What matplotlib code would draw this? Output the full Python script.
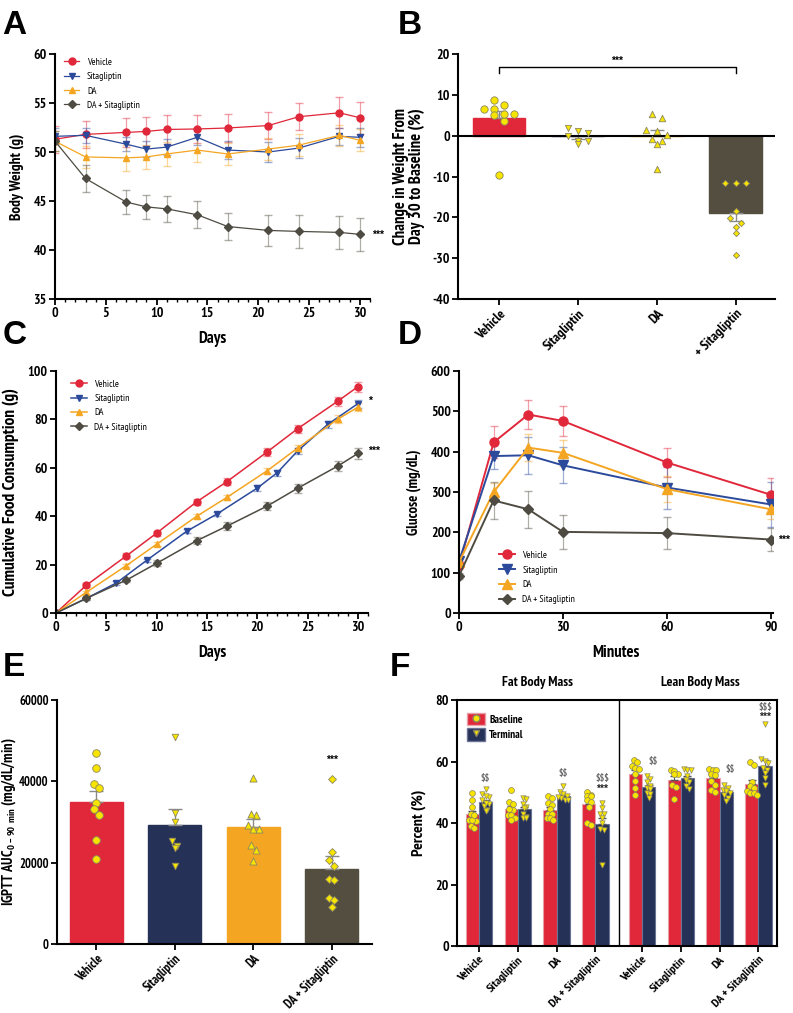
import numpy as np
import matplotlib
matplotlib.use('Agg')
import matplotlib.pyplot as plt
from matplotlib import font_manager
from matplotlib.patches import Patch
from matplotlib.lines import Line2D
from matplotlib.legend_handler import HandlerTuple
from matplotlib.ticker import MultipleLocator

# the original uses a narrow bold face; take the first narrow family with a bold file
bold_ok = {}
for f in font_manager.fontManager.ttflist:
    w = f.weight
    heavy = (w in ('bold', 'heavy', 'black', 'semibold', 'demibold')) or (isinstance(w, int) and w >= 600)
    bold_ok[f.name] = bold_ok.get(f.name, False) or heavy
FONT = 'Liberation Sans'
for cand in ['Liberation Sans Narrow', 'Arial Narrow', 'PT Sans Narrow', 'Pragati Narrow',
             'Archivo Narrow', 'Roboto Condensed']:
    if bold_ok.get(cand):
        FONT = cand
        break
NARROW = FONT != 'Liberation Sans'

plt.rcParams['font.family'] = [FONT, 'Liberation Sans', 'DejaVu Sans']
plt.rcParams['font.weight'] = 'bold'
plt.rcParams['axes.labelweight'] = 'bold'
plt.rcParams['axes.unicode_minus'] = False
plt.rcParams['mathtext.fontset'] = 'custom'
plt.rcParams['mathtext.rm'] = FONT
plt.rcParams['mathtext.bf'] = FONT + ':bold'

groups = ['Vehicle', 'Sitagliptin', 'DA', 'DA + Sitagliptin']
# in the original figure panel B's last label is hidden under panel D except its tail
groups_b = ['Vehicle', 'Sitagliptin', 'DA', '+ Sitagliptin']

# --- A: body weight (g) ---
bw_days = [0, 3, 7, 9, 11, 14, 17, 21, 24, 28, 30]
bw_veh = [51.3, 51.8, 52.0, 52.1, 52.3, 52.35, 52.45, 52.7, 53.6, 54.0, 53.5]
bw_veh_sem = [1.4, 1.4, 1.45, 1.45, 1.45, 1.45, 1.4, 1.4, 1.4, 1.6, 1.65]
bw_sita = [51.6, 51.7, 50.8, 50.3, 50.5, 51.5, 50.2, 50.0, 50.4, 51.6, 51.5]
bw_sita_sem = [0.8, 0.8, 0.7, 0.8, 0.8, 0.8, 0.9, 1.0, 1.0, 0.9, 1.0]
bw_da = [51.1, 49.5, 49.4, 49.5, 49.8, 50.2, 49.8, 50.3, 50.7, 51.7, 51.2]
bw_da_sem = [1.0, 1.1, 1.3, 1.2, 1.2, 1.2, 1.1, 1.1, 1.1, 1.1, 1.1]
bw_dasita = [51.1, 47.3, 44.9, 44.4, 44.2, 43.6, 42.4, 42.0, 41.9, 41.8, 41.6]
bw_dasita_sem = [1.0, 1.4, 1.2, 1.2, 1.3, 1.4, 1.4, 1.6, 1.7, 1.7, 1.7]

# --- B: change in weight day 30 vs baseline (%) ---
chg_veh = [6.5, 5.2, 7.5, 5.1, 8.7, 3.7, 5.2, 6.5, -9.6]
chg_sita = [2.0, 0.6, 1.2, -0.2, -1.3, -2.0, -1.4]
chg_da = [4.3, 5.3, 1.4, 1.2, 0.2, -0.7, -1.3, -2.1, -8.2]
chg_dasita = [-11.5, -11.7, -11.5, -18.4, -20.2, -22.4, -21.4, -23.9, -29.2]

# --- C: cumulative food consumption (g) ---
fc_days = [0, 3, 7, 10, 14, 17, 21, 24, 28, 30]
fc_sita_days = [0, 3, 6, 9, 13, 16, 20, 22, 24, 27, 30]
fc_veh = [0, 11.4, 23.6, 33.0, 46.0, 54.3, 66.6, 76.1, 87.5, 93.5]
fc_veh_sem = [0, 0.8, 1.0, 1.0, 1.2, 1.3, 1.6, 1.7, 1.9, 2.1]
fc_sita = [0, 6.0, 12.4, 21.7, 33.8, 40.9, 51.6, 58.0, 66.9, 77.9, 86.5]
fc_sita_sem = [0, 0.5, 0.7, 0.8, 0.9, 1.0, 1.1, 1.2, 1.4, 1.5, 1.6]
fc_da = [0, 8.5, 19.6, 28.4, 40.0, 47.8, 58.8, 68.1, 80.1, 85.0]
fc_da_sem = [0, 0.6, 0.8, 0.9, 1.0, 1.1, 1.3, 1.4, 1.5, 1.6]
fc_dasita = [0, 6.0, 13.6, 20.5, 29.9, 35.9, 44.2, 51.5, 60.7, 65.9]
fc_dasita_sem = [0, 0.8, 1.0, 1.2, 1.4, 1.5, 1.7, 1.9, 2.0, 2.2]

# --- D: glucose tolerance (mg/dL) ---
gtt_min = [0, 10, 20, 30, 60, 90]
gtt_veh = [118, 423, 492, 476, 373, 293]
gtt_veh_sem = [10, 40, 35, 38, 37, 42]
gtt_sita = [128, 389, 391, 366, 311, 269]
gtt_sita_sem = [10, 32, 46, 45, 52, 56]
gtt_da = [126, 300, 410, 397, 307, 257]
gtt_da_sem = [10, 22, 34, 32, 32, 24]
gtt_dasita = [92, 279, 257, 201, 198, 182]
gtt_dasita_sem = [8, 45, 46, 42, 40, 28]

# --- E: IGPTT AUC (mg/dL/min) ---
auc_veh = [47000, 43300, 39300, 38400, 34700, 33100, 31600, 25500, 21000]
auc_sita = [51000, 32200, 29900, 25400, 24100, 23600, 19300]
auc_da = [40800, 31700, 31900, 29300, 28200, 28400, 23100, 24300, 20500]
auc_dasita = [40600, 22600, 20700, 19200, 15900, 15700, 11400, 10700, 9200]

# --- F: body composition (%) ---
comp_labels = groups + groups
comp_base_mean = [42.9, 44.6, 44.4, 46.2, 56.0, 54.0, 54.5, 52.7]
comp_term_mean = [46.8, 44.5, 48.7, 39.8, 51.6, 54.5, 50.2, 58.5]
fat_veh_base = [49.8, 47.6, 45.2, 43.0, 41.0, 40.6, 40.9, 39.2, 38.3, 42.5]
fat_veh_term = [51.2, 49.5, 48.5, 48.8, 47.5, 46.2, 45.5, 44.2, 44.0, 46.5]
fat_sita_base = [50.9, 46.9, 46.3, 44.3, 42.7, 42.5, 41.6, 41.0, 44.5]
fat_sita_term = [48.3, 47.8, 46.2, 45.2, 44.8, 43.1, 42.0, 41.8, 41.5]
fat_da_base = [48.8, 48.2, 46.5, 45.8, 44.5, 43.0, 42.8, 41.6, 41.5, 41.0]
fat_da_term = [51.9, 50.0, 49.5, 48.8, 48.0, 47.6, 47.5, 48.5]
fat_dasita_base = [50.2, 49.0, 48.9, 48.8, 47.5, 46.8, 45.2, 39.9, 39.4]
fat_dasita_term = [46.5, 44.8, 43.0, 42.9, 41.5, 40.0, 38.0, 37.6, 26.2]
lean_veh_base = [60.6, 59.7, 58.6, 57.8, 57.6, 55.9, 53.6, 51.4, 49.0]
lean_veh_term = [55.3, 54.3, 53.3, 52.0, 51.5, 51.2, 49.8, 49.5, 48.0]
lean_sita_base = [57.2, 57.0, 56.0, 55.8, 52.5, 51.8, 47.8]
lean_sita_term = [57.5, 57.3, 57.2, 55.4, 54.0, 53.5, 52.0, 51.2]
lean_da_base = [57.6, 57.2, 57.1, 55.9, 55.6, 53.7, 52.5, 50.7, 50.2]
lean_da_term = [52.3, 51.5, 50.8, 49.9, 49.2, 48.3, 47.2, 50.5]
lean_dasita_base = [59.7, 59.0, 53.5, 52.0, 51.3, 50.3, 49.9, 49.8, 49.0]
lean_dasita_term = [72.3, 60.7, 60.2, 59.5, 58.0, 57.2, 56.2, 54.5, 52.5]

RED = '#E0283A'
BLUE = '#2C4A9C'
NAVY = '#263158'
ORANGE = '#F4A623'
DARK = '#534E40'
YEL = '#F7E400'
YEL_EDGE = '#8C8760'
colors_line = [RED, BLUE, ORANGE, '#4E4C42']
colors_bar = [RED, NAVY, ORANGE, DARK]
markers = ['o', 'v', '^', 'D']
k = 1.0 if NARROW else 0.85
TICK_FS, CAT_FS, LEG_FS = 10 * k, 8.7 * k, 7 * k
STAR = dict(family='Liberation Sans', fontsize=7.5)


def sem(v):
    v = np.asarray(v, float)
    return v.std(ddof=1) / np.sqrt(len(v))


def swarm_x(vals, center, dx, dy):
    # rows of close values get spread side by side, like a column scatter
    vals = np.asarray(vals, float)
    order = np.argsort(-vals)
    xs = np.full(len(vals), float(center))
    row = []

    def flush(r):
        n = len(r)
        for j, idx in enumerate(r):
            xs[idx] = center + (j - (n - 1) / 2) * dx

    for idx in order:
        if row and vals[row[0]] - vals[idx] > dy:
            flush(row)
            row = []
        row.append(idx)
    flush(row)
    return xs


def style(ax, fs=None):
    for s in ['top', 'right']:
        ax.spines[s].set_visible(False)
    for s in ['left', 'bottom']:
        ax.spines[s].set_linewidth(1.5)
    ax.tick_params(width=1.3, length=4, labelsize=fs or TICK_FS, pad=2)
    ax.tick_params(which='minor', width=1.0, length=2.5)


def line_panel(ax, xs_list, ys_list, es_list, ms, lw):
    for i in range(4):
        ax.errorbar(xs_list[i], ys_list[i], yerr=es_list[i], fmt='none',
                    ecolor=colors_line[i], alpha=0.45, capsize=3, elinewidth=0.9)
    for i in range(4):
        m = ms * 0.8 if markers[i] == 'D' else ms
        ax.plot(xs_list[i], ys_list[i], color=colors_line[i], marker=markers[i],
                ms=m, lw=lw, label=groups[i])


fig = plt.figure(figsize=(7.93, 10.13), dpi=100)

# ---------------- A ----------------
axA = fig.add_axes([0.0694, 0.7048, 0.397, 0.2419])
line_panel(axA, [bw_days] * 4, [bw_veh, bw_sita, bw_da, bw_dasita],
           [bw_veh_sem, bw_sita_sem, bw_da_sem, bw_dasita_sem], 5, 0.9)
axA.set_xlim(0, 31)
axA.set_ylim(35, 60)
axA.xaxis.set_major_locator(MultipleLocator(5))
axA.xaxis.set_minor_locator(MultipleLocator(1))
axA.yaxis.set_major_locator(MultipleLocator(5))
style(axA)
axA.set_xlabel('Days', fontsize=12 * k, labelpad=8)
axA.set_ylabel('Body Weight (g)', fontsize=11 * k, labelpad=7)
axA.text(31.2, bw_dasita[-1], '***', va='center', clip_on=False, **STAR)
axA.legend(loc='upper left', bbox_to_anchor=(0.0, 1.02), frameon=False,
           prop={'weight': 'normal', 'size': LEG_FS}, handlelength=1.6, labelspacing=0.55)

# ---------------- B ----------------
axB = fig.add_axes([0.5776, 0.7048, 0.3997, 0.2419])
b_sets = [chg_veh, chg_sita, chg_da, chg_dasita]
b_sizes = [28, 20, 22, 10]
for i, pts in enumerate(b_sets):
    m, s = np.mean(pts), sem(pts)
    axB.bar(i, m, width=0.67, color=colors_bar[i], edgecolor=colors_bar[i], zorder=2)
    sgn = 1 if m >= 0 else -1
    axB.errorbar(i, m, yerr=[[s if sgn < 0 else 0], [s if sgn > 0 else 0]],
                 fmt='none', ecolor='#8a8a8a', capsize=5, elinewidth=1, zorder=3)
    xs = swarm_x(pts, i, 0.13, 1.4)
    axB.scatter(xs, pts, s=b_sizes[i], marker=markers[i], c=YEL,
                edgecolors=YEL_EDGE, linewidths=0.6, zorder=4)
axB.axhline(0, color='k', lw=1.5, zorder=3)
axB.plot([0, 0, 3, 3], [15.3, 16.7, 16.7, 15.3], color='k', lw=1)
axB.text(1.5, 17.0, '***', ha='center', va='bottom', **STAR)
axB.set_xlim(-0.52, 3.5)
axB.set_ylim(-40, 20)
axB.yaxis.set_major_locator(MultipleLocator(10))
axB.set_xticks(range(4))
axB.set_xticklabels(groups_b, rotation=45, ha='right', rotation_mode='anchor', fontsize=CAT_FS)
style(axB)
axB.set_ylabel('Change in Weight From\nDay 30 to Baseline (%)', fontsize=12 * k,
               linespacing=1.0, labelpad=5)

# ---------------- C ----------------
axC = fig.add_axes([0.0706, 0.3949, 0.3934, 0.2389])
line_panel(axC, [fc_days, fc_sita_days, fc_days, fc_days],
           [fc_veh, fc_sita, fc_da, fc_dasita],
           [fc_veh_sem, fc_sita_sem, fc_da_sem, fc_dasita_sem], 5, 1.1)
axC.set_xlim(0, 31)
axC.set_ylim(0, 100)
axC.xaxis.set_major_locator(MultipleLocator(5))
axC.xaxis.set_minor_locator(MultipleLocator(1))
axC.yaxis.set_major_locator(MultipleLocator(20))
style(axC)
axC.set_xlabel('Days', fontsize=12 * k, labelpad=8)
axC.set_ylabel('Cumulative Food Consumption (g)', fontsize=12.5 * k, labelpad=6)
axC.text(31.0, 87.5, '*', va='center', clip_on=False, **STAR)
axC.text(31.0, 67.0, '***', va='center', clip_on=False, **STAR)
axC.legend(loc='upper left', bbox_to_anchor=(0.02, 1.0), frameon=False,
           prop={'weight': 'normal', 'size': LEG_FS}, handlelength=1.6, labelspacing=0.55)

# ---------------- D ----------------
axD = fig.add_axes([0.5788, 0.3949, 0.396, 0.2389])
line_panel(axD, [gtt_min] * 4, [gtt_veh, gtt_sita, gtt_da, gtt_dasita],
           [gtt_veh_sem, gtt_sita_sem, gtt_da_sem, gtt_dasita_sem], 6.5, 1.4)
axD.set_xlim(0, 90.6)
axD.set_ylim(0, 600)
axD.set_xticks([0, 30, 60, 90])
axD.yaxis.set_major_locator(MultipleLocator(100))
style(axD)
axD.set_xlabel('Minutes', fontsize=12 * k, labelpad=8)
axD.set_ylabel('Glucose (mg/dL)', fontsize=10.5 * k, labelpad=7)
axD.text(92, gtt_dasita[-1], '***', va='center', clip_on=False, **STAR)
axD.legend(loc='lower left', bbox_to_anchor=(0.1, 0.0), frameon=False,
           prop={'weight': 'normal', 'size': LEG_FS}, handlelength=1.6, labelspacing=0.6)

# ---------------- E ----------------
axE = fig.add_axes([0.0719, 0.0681, 0.397, 0.2409])
e_sets = [auc_veh, auc_sita, auc_da, auc_dasita]
e_sizes = [30, 22, 26, 16]
for i, pts in enumerate(e_sets):
    m, s = np.mean(pts), sem(pts)
    axE.bar(i, m, width=0.67, color=colors_bar[i], edgecolor=colors_bar[i], zorder=2)
    axE.errorbar(i, m, yerr=[[0], [s]], fmt='none', ecolor='#8a8a8a',
                 capsize=5, elinewidth=1, zorder=3)
    xs = swarm_x(pts, i, 0.068, 1500)
    axE.scatter(xs, pts, s=e_sizes[i], marker=markers[i], c=YEL,
                edgecolors=YEL_EDGE, linewidths=0.6, zorder=4)
axE.text(3, 44000, '***', ha='center', va='bottom', **STAR)
axE.set_xlim(-0.5, 3.51)
axE.set_ylim(0, 60000)
axE.yaxis.set_major_locator(MultipleLocator(20000))
axE.set_xticks(range(4))
axE.set_xticklabels(groups, rotation=45, ha='right', rotation_mode='anchor', fontsize=CAT_FS)
style(axE, fs=9 * k)
axE.set_ylabel(r'IGPTT AUC$_{\mathbf{0-90\ min}}$ (mg/dL/min)', fontsize=10.5 * k)
axE.yaxis.set_label_coords(-0.125, 0.5)

# ---------------- F ----------------
axF = fig.add_axes([0.5763, 0.0661, 0.4035, 0.2428])
f_pos = [0, 1, 2, 3, 4.2, 5.2, 6.2, 7.2]
f_base = [fat_veh_base, fat_sita_base, fat_da_base, fat_dasita_base,
          lean_veh_base, lean_sita_base, lean_da_base, lean_dasita_base]
f_term = [fat_veh_term, fat_sita_term, fat_da_term, fat_dasita_term,
          lean_veh_term, lean_sita_term, lean_da_term, lean_dasita_term]
bw = 0.34
for j, p in enumerate(f_pos):
    for pts, mean, off, col, mk in [(f_base[j], comp_base_mean[j], -bw / 2, RED, 'o'),
                                    (f_term[j], comp_term_mean[j], bw / 2, NAVY, 'v')]:
        axF.bar(p + off, mean, width=bw, color=col, edgecolor='#e8a0a8' if col == RED else '#6b7394',
                lw=0.8, zorder=2)
        axF.errorbar(p + off, mean, yerr=[[0], [sem(pts)]], fmt='none', ecolor='#555555',
                     capsize=3, elinewidth=0.8, zorder=3)
        xs = swarm_x(pts, p + off, 0.09, 1.3)
        axF.scatter(xs, pts, s=18 if mk == 'o' else 15, marker=mk, c=YEL,
                    edgecolors=YEL_EDGE, linewidths=0.5, zorder=4)
axF.axvline(3.6, color='k', lw=1)
ann = [(0, 53.0, r'\$\$'), (2, 54.5, r'\$\$'), (3, 53.0, r'\$\$\$'), (3, 49.5, '***'),
       (4.2, 58.5, r'\$\$'), (6.2, 56.0, r'\$\$'), (7.2, 76.0, r'\$\$\$'), (7.2, 72.8, '***')]
for x, y, t in ann:
    dx = 0.28 if x in (4.2, 6.2) else 0.17
    if '$' in t:
        axF.text(x + dx, y, t, ha='center', va='bottom', fontsize=7 * k, color='#666666')
    else:
        axF.text(x + dx, y, t, ha='center', va='bottom', color='#222222', **STAR)
axF.text(1.5, 83.5, 'Fat Body Mass', ha='center', va='bottom', fontsize=10 * k)
axF.text(5.7, 83.5, 'Lean Body Mass', ha='center', va='bottom', fontsize=10 * k)
axF.set_xlim(-0.567, 7.68)
axF.set_ylim(0, 80)
axF.yaxis.set_major_locator(MultipleLocator(20))
axF.set_xticks(f_pos)
axF.set_xticklabels(comp_labels, rotation=45, ha='right', rotation_mode='anchor', fontsize=CAT_FS)
for s in axF.spines.values():
    s.set_linewidth(1.5)
axF.tick_params(width=1.3, length=4, labelsize=TICK_FS, pad=2)
axF.tick_params(axis='x', labelsize=CAT_FS)
axF.set_ylabel('Percent (%)', fontsize=11.5 * k, labelpad=7)
h_base = (Patch(facecolor=RED, edgecolor='#e8a0a8'),
          Line2D([], [], ls='none', marker='o', ms=5, mfc=YEL, mec=YEL_EDGE))
h_term = (Patch(facecolor=NAVY, edgecolor='#6b7394'),
          Line2D([], [], ls='none', marker='v', ms=4, mfc=YEL, mec=YEL_EDGE))
axF.legend([h_base, h_term], ['Baseline', 'Terminal'], handler_map={tuple: HandlerTuple(ndivide=1)},
           loc='upper left', bbox_to_anchor=(0.0, 0.99), frameon=False, fontsize=8 * k,
           handlelength=1.6, handleheight=1.4, labelspacing=0.25, handletextpad=0.4)

# panel letters
for x, y, t in [(0.003, 0.975, 'A'), (0.502, 0.975, 'B'), (0.003, 0.669, 'C'),
                (0.502, 0.669, 'D'), (0.003, 0.341, 'E'), (0.492, 0.341, 'F')]:
    fig.text(x, y, t, fontsize=24, fontweight='bold', family='Liberation Sans',
             ha='left', va='center')

fig.savefig('out.png', dpi=100)
